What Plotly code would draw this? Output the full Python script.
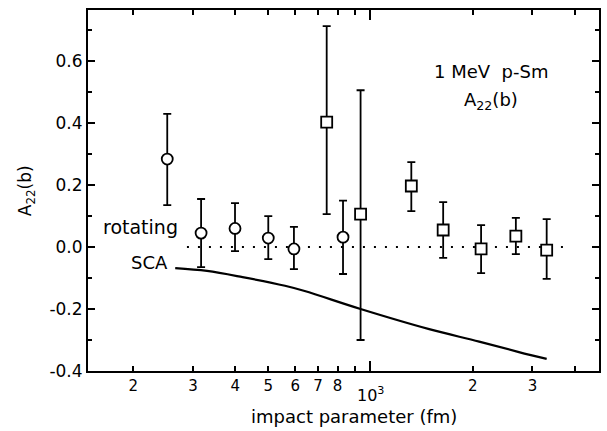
import plotly.graph_objects as go

# Circles (data set 1)
circ_b = [252, 317, 399, 500, 595, 830]
circ_a = [0.284, 0.045, 0.060, 0.029, -0.006, 0.032]
circ_hi = [0.43, 0.155, 0.142, 0.100, 0.065, 0.150]
circ_lo = [0.135, -0.065, -0.013, -0.039, -0.071, -0.087]

# Squares (data set 2)
sq_b = [743, 935, 1319, 1637, 2117, 2680, 3303]
sq_a = [0.403, 0.106, 0.197, 0.055, -0.006, 0.035, -0.010]
sq_hi = [0.713, 0.506, 0.274, 0.145, 0.071, 0.094, 0.090]
sq_lo = [0.106, -0.300, 0.116, -0.035, -0.084, -0.023, -0.103]

# SCA calculation curve
sca_b = [266, 330, 420, 560, 640, 935, 1489, 2090, 2736, 3303]
sca_a = [-0.068, -0.077, -0.097, -0.125, -0.142, -0.200, -0.265, -0.305, -0.339, -0.361]

# rotating-model line
rot_b = [288, 3900]
rot_a = [0.0, 0.0]

x_tickvals = [200, 300, 400, 500, 600, 700, 800, 900, 1000, 2000, 3000, 4000]
x_ticktext = ["2", "3", "4", "5", "6", "7", "8", "", "", "2", "3", ""]
y_tickvals = [-0.4, -0.2, 0.0, 0.2, 0.4, 0.6]
y_ticktext = ["-0.4", "-0.2", "0.0", "0.2", "0.4", "0.6"]
y_minor = [-0.3, -0.1, 0.1, 0.3, 0.5, 0.7]

font = "DejaVu Sans"

fig = go.Figure()

fig.add_trace(go.Scatter(x=rot_b, y=rot_a, mode="lines",
                         line=dict(color="black", width=2, dash="2px,9px"),
                         showlegend=False))
fig.add_trace(go.Scatter(x=sca_b, y=sca_a, mode="lines",
                         line=dict(color="black", width=2.2, shape="spline"),
                         showlegend=False))

def err(a, hi, lo):
    return ([h - v for h, v in zip(hi, a)], [v - l for v, l in zip(a, lo)])

ep, em = err(circ_a, circ_hi, circ_lo)
fig.add_trace(go.Scatter(x=circ_b, y=circ_a, mode="markers",
                         marker=dict(symbol="circle", size=11, color="white",
                                     line=dict(color="black", width=1.8)),
                         error_y=dict(type="data", symmetric=False, array=ep, arrayminus=em,
                                      color="black", thickness=1.8, width=4),
                         showlegend=False))
ep, em = err(sq_a, sq_hi, sq_lo)
fig.add_trace(go.Scatter(x=sq_b, y=sq_a, mode="markers",
                         marker=dict(symbol="square", size=11, color="white",
                                     line=dict(color="black", width=1.8)),
                         error_y=dict(type="data", symmetric=False, array=ep, arrayminus=em,
                                      color="black", thickness=1.8, width=4),
                         showlegend=False))

# invisible trace on xaxis2 for long 10^3 tick
fig.add_trace(go.Scatter(x=[1000], y=[0], xaxis="x2", mode="markers",
                         marker=dict(opacity=0), showlegend=False, hoverinfo="skip"))

xr = [2.168, 3.673]
fig.update_layout(
    width=607, height=431,
    margin=dict(l=88, r=6, t=10, b=60),
    paper_bgcolor="white", plot_bgcolor="white",
    font=dict(family=font, color="black", size=15),
    xaxis=dict(type="log", range=xr, tickmode="array", tickvals=x_tickvals, ticktext=x_ticktext,
               ticks="inside", ticklen=5, tickwidth=1.5, tickcolor="black",
               showline=True, linecolor="black", linewidth=2, mirror="ticks",
               showgrid=False, zeroline=False, tickfont=dict(size=15)),
    xaxis2=dict(type="log", range=xr, overlaying="x", tickmode="array", tickvals=[1000],
                ticktext=[""], ticks="inside", ticklen=10, tickwidth=1.5, tickcolor="black",
                showline=False, mirror="ticks", showgrid=False, zeroline=False, side="bottom"),
    yaxis=dict(range=[-0.4, 0.765], tickmode="array", tickvals=y_tickvals, ticktext=y_ticktext,
               ticks="inside", ticklen=7, tickwidth=1.5, tickcolor="black",
               minor=dict(tickmode="array", tickvals=y_minor, ticks="inside", ticklen=4,
                          tickwidth=1.5, tickcolor="black"),
               showline=True, linecolor="black", linewidth=2, mirror="ticks",
               showgrid=False, zeroline=False, tickfont=dict(size=17)),
    annotations=[
        dict(x=0.52, y=-0.125, xref="paper", yref="paper", text="impact parameter (fm)",
             showarrow=False, font=dict(size=18), xanchor="center", yanchor="middle"),
        dict(x=-0.12, y=0.5, xref="paper", yref="paper", text="A<sub>22</sub>(b)",
             showarrow=False, font=dict(size=17), textangle=-90, xanchor="center", yanchor="middle"),
        dict(x=3.0, y=-0.065, xref="x", yref="paper", text="10<sup>3</sup>",
             showarrow=False, font=dict(size=16), xanchor="center", yanchor="middle"),
        dict(x=3.355, y=0.565, xref="x", yref="y", text="1 MeV  p-Sm",
             showarrow=False, font=dict(size=18), xanchor="center", yanchor="middle"),
        dict(x=3.355, y=0.47, xref="x", yref="y", text="A<sub>22</sub>(b)",
             showarrow=False, font=dict(size=18), xanchor="center", yanchor="middle"),
        dict(x=2.44, y=0.065, xref="x", yref="y", text="rotating",
             showarrow=False, font=dict(size=19), xanchor="right", yanchor="middle"),
        dict(x=2.41, y=-0.05, xref="x", yref="y", text="SCA",
             showarrow=False, font=dict(size=18), xanchor="right", yanchor="middle"),
    ],
)

fig.write_html("out.html")
